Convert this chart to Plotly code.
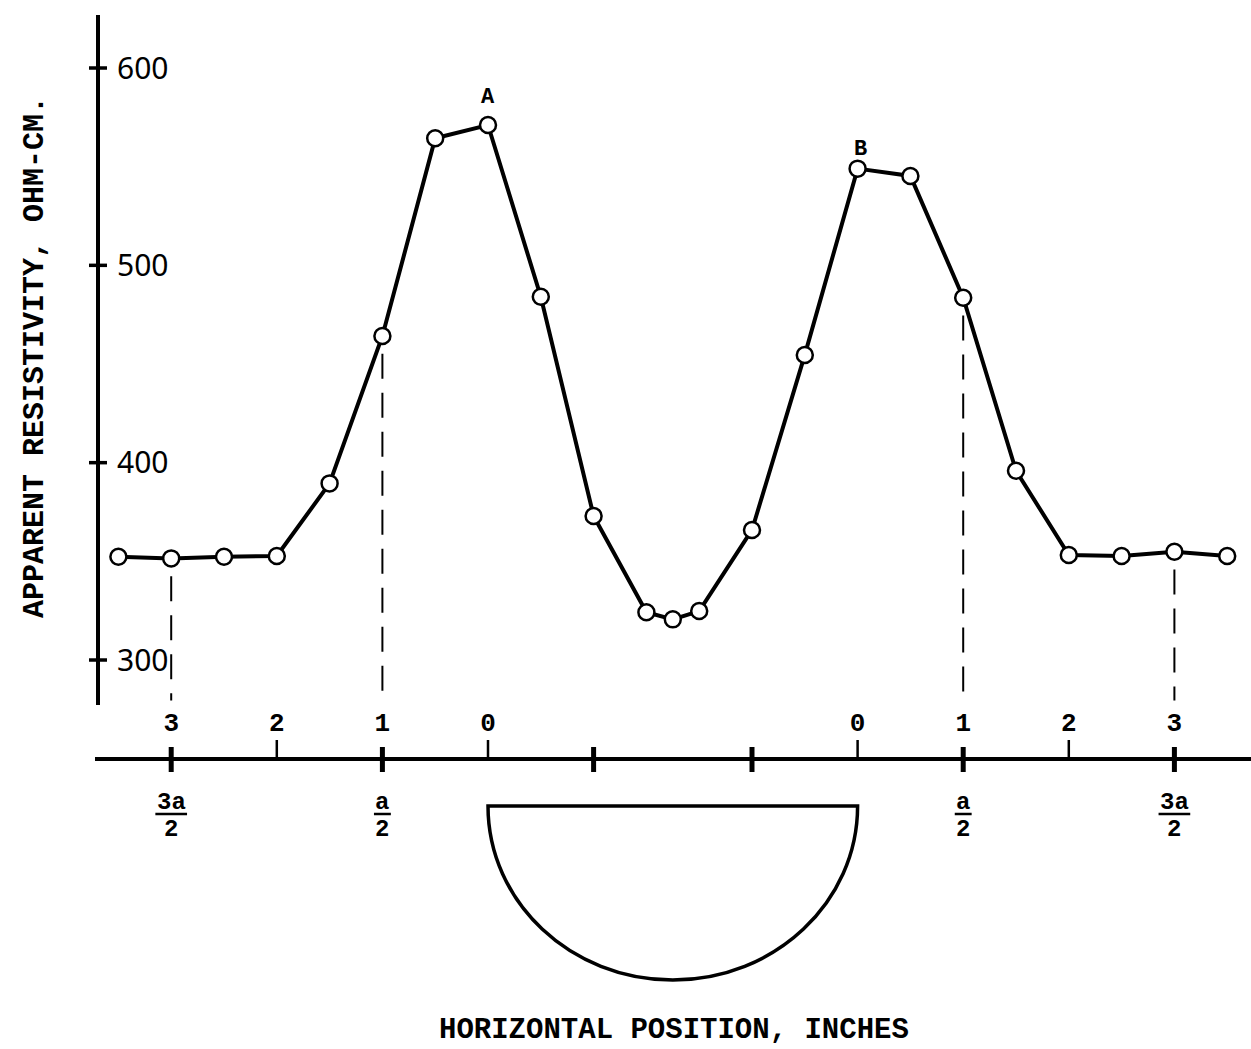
import plotly.graph_objects as go

# ---------------- data ----------------
position_in = [-3.5, -3.0, -2.5, -2.0, -1.5, -1.0, -0.5, 0.0, 0.5, 1.0, 1.5, 1.75,
               2.0, 2.5, 3.0, 3.5, 4.0, 4.5, 5.0, 5.5, 6.0, 6.5, 7.0]
resistivity = [352.3, 351.5, 352.3, 352.7, 389.5, 464.2, 564.4, 571.1, 484.1, 373.0,
               324.2, 320.6, 324.8, 365.9, 454.6, 549.0, 545.3, 483.6, 395.9, 353.2,
               352.7, 354.9, 352.7]

y_tick_vals = [300, 400, 500, 600]
y_tick_text = ["300", "400", "500", "600"]

top_tick_x = [-3, -2, -1, 0, 3.5, 4.5, 5.5, 6.5]
top_tick_text = ["3", "2", "1", "0", "0", "1", "2", "3"]

cross_tick_x = [-3, -1, 1.0, 2.5, 4.5, 6.5]
small_tick_x = [-2, 0, 3.5, 5.5]

frac_x = [-3, -1, 4.5, 6.5]
frac_num = ["3a", "a", "a", "3a"]
frac_den = ["2", "2", "2", "2"]

dashed_x = [-3.0, -1.0, 4.5, 6.5]

peak_labels = [("A", 0.0), ("B", 3.5)]
object_span = [0.0, 3.5]

# ---------------- layout helpers ----------------
W, H = 1251, 1049
def py(pix):  # pixel row -> paper y
    return 1 - pix / H
def px(pix):  # pixel column -> paper x
    return pix / W

MONO = "Liberation Mono"
SANS = "Noto Sans"

fig = go.Figure()

fig.add_trace(go.Scatter(
    x=position_in, y=resistivity, mode="lines+markers",
    line=dict(color="black", width=4),
    marker=dict(symbol="circle", size=16, color="white",
                line=dict(color="black", width=2.5)),
    cliponaxis=False, showlegend=False, hoverinfo="x+y"))

shapes = []
# y-axis tick crosses
for v in y_tick_vals:
    shapes.append(dict(type="line", xref="paper", yref="y",
                       x0=px(89), x1=px(107), y0=v, y1=v,
                       line=dict(color="black", width=3.5)))
# x-axis heavy crossing ticks
for xv in cross_tick_x:
    shapes.append(dict(type="line", xref="x", yref="paper",
                       x0=xv, x1=xv, y0=py(747), y1=py(772),
                       line=dict(color="black", width=5)))
# x-axis small upward ticks
for xv in small_tick_x:
    shapes.append(dict(type="line", xref="x", yref="paper",
                       x0=xv, x1=xv, y0=py(740), y1=py(759),
                       line=dict(color="black", width=2.5)))
# dashed drop lines
for xv in dashed_x:
    yv = resistivity[position_in.index(xv)]
    shapes.append(dict(type="line", xref="x", yref="y",
                       x0=xv, x1=xv, y0=yv - 9, y1=279.5,
                       line=dict(color="black", width=2, dash="25px,14px")))
# fraction bars
for xv, num in zip(frac_x, frac_num):
    half = 0.15 if len(num) > 1 else 0.08
    shapes.append(dict(type="line", xref="x", yref="paper",
                       x0=xv - half, x1=xv + half, y0=py(814), y1=py(814),
                       line=dict(color="black", width=2.5)))
# half-cylinder object
x0o, x1o = object_span
xc = (x0o + x1o) / 2
rx = (x1o - x0o) / 2
yt, yb = py(806), py(980)
ry = yt - yb
k = 0.5523
path = (f"M {x0o},{yt} C {x0o},{yt - k*ry} {xc - k*rx},{yb} {xc},{yb} "
        f"C {xc + k*rx},{yb} {x1o},{yt - k*ry} {x1o},{yt} Z")
shapes.append(dict(type="path", xref="x", yref="paper", path=path,
                   line=dict(color="black", width=3.5), fillcolor="rgba(0,0,0,0)"))

annotations = []
for txt, xv in peak_labels:
    yv = resistivity[position_in.index(xv)]
    annotations.append(dict(x=xv, y=yv, xref="x", yref="y", text=f"<b>{txt}</b>",
                            showarrow=False, yshift=28 if txt == "A" else 19,
                            xshift=0 if txt == "A" else 3,
                            xanchor="center", yanchor="middle",
                            font=dict(family=MONO, size=22, color="black")))
for xv, num, den in zip(frac_x, frac_num, frac_den):
    annotations.append(dict(x=xv, y=py(802), xref="x", yref="paper", text=f"<b>{num}</b>",
                            showarrow=False, xanchor="center", yanchor="middle",
                            font=dict(family=MONO, size=24, color="black")))
    annotations.append(dict(x=xv, y=py(829), xref="x", yref="paper", text=f"<b>{den}</b>",
                            showarrow=False, xanchor="center", yanchor="middle",
                            font=dict(family=MONO, size=24, color="black")))
annotations.append(dict(x=px(35), y=py(357), xref="paper", yref="paper",
                        text="<b>APPARENT RESISTIVITY, OHM-CM.</b>", textangle=-90,
                        showarrow=False, xanchor="center", yanchor="middle",
                        font=dict(family=MONO, size=30, color="black")))
annotations.append(dict(x=px(674), y=py(1030), xref="paper", yref="paper",
                        text="<b>HORIZONTAL POSITION, INCHES</b>",
                        showarrow=False, xanchor="center", yanchor="middle",
                        font=dict(family=MONO, size=29, color="black")))

fig.update_layout(
    width=W, height=H, margin=dict(l=0, r=0, t=0, b=0),
    paper_bgcolor="white", plot_bgcolor="white",
    showlegend=False, shapes=shapes, annotations=annotations,
    xaxis=dict(domain=[px(95), 1], range=[-3.7216, 7.2254],
               anchor="free", position=py(759), side="top",
               showline=True, linewidth=4, linecolor="black",
               ticks="", showgrid=False, zeroline=False,
               tickmode="array", tickvals=top_tick_x, ticktext=top_tick_text,
               tickfont=dict(family=MONO, size=26, color="black", weight="bold"),
               ticklabelstandoff=16),
    yaxis=dict(domain=[py(705), py(15)], range=[277.2, 626.86],
               anchor="free", position=px(98), side="left",
               showline=True, linewidth=4, linecolor="black",
               ticks="", showgrid=False, zeroline=False,
               tickmode="array", tickvals=y_tick_vals, ticktext=y_tick_text,
               ticklabelposition="inside",
               tickfont=dict(family=SANS, size=30, color="black"),
               ticklabelstandoff=20),
)

fig.write_html("out.html")
